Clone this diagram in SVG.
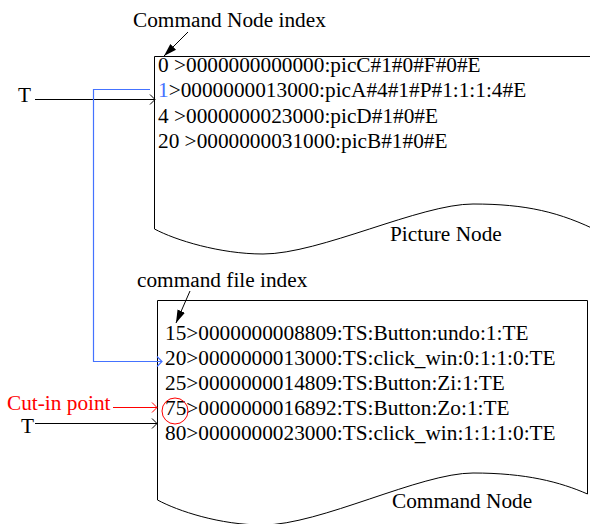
<svg xmlns="http://www.w3.org/2000/svg" width="590" height="524" viewBox="0 0 590 524">
<style>
text{font-size:21.3px;fill:#000}
.shape{fill:#fff;stroke:#000;stroke-width:1}
.ln{fill:none;stroke:#000;stroke-width:1}
.blue{fill:none;stroke:#4472ff;stroke-width:1.2}
.red{fill:none;stroke:#f00;stroke-width:1}
</style>
<defs>
<marker id="openK" markerUnits="userSpaceOnUse" markerWidth="8" markerHeight="12" refX="6" refY="6" orient="auto"><path d="M1,1 L6,6 L1,11" fill="none" stroke="#000" stroke-width="1"/></marker>
<marker id="openB" markerUnits="userSpaceOnUse" markerWidth="8" markerHeight="12" refX="6" refY="6" orient="auto"><path d="M1,1 L6,6 L1,11" fill="none" stroke="#4472ff" stroke-width="1.2"/></marker>
<marker id="openR" markerUnits="userSpaceOnUse" markerWidth="8" markerHeight="12" refX="6" refY="6" orient="auto"><path d="M1,1 L6,6 L1,11" fill="none" stroke="#f00" stroke-width="1"/></marker>
<marker id="fillK" markerUnits="userSpaceOnUse" markerWidth="14" markerHeight="10" refX="13" refY="5" orient="auto"><path d="M0,1 L13,5 L0,9 Z" fill="#000"/></marker>
</defs>

<g id="picture-node" font-family="Liberation Serif, Times New Roman, DejaVu Serif, serif">
<path class="shape" d="M600,56.5 H154.5 V229 C175,240 220,254 263,254 C320,254 420,204 473,204 C526,204 560,212 600,232"/>
<text x="158" y="72">0 &gt;0000000000000:picC#1#0#F#0#E</text>
<text x="158" y="97"><tspan fill="#4472ff">1</tspan>&gt;0000000013000:picA#4#1#P#1:1:1:4#E</text>
<text x="158" y="123">4 &gt;0000000023000:picD#1#0#E</text>
<text x="158" y="148">20 &gt;0000000031000:picB#1#0#E</text>
<text x="390" y="241">Picture Node</text>
</g>

<g id="command-node" font-family="Liberation Serif, Times New Roman, DejaVu Serif, serif">
<path class="shape" d="M157.5,300.5 H587.5 V494 C560,482 526,473 473,473 C420,473 320,525 263,525 C220,525 178,511 157.5,500 Z"/>
<text x="165" y="340">15&gt;0000000008809:TS:Button:undo:1:TE</text>
<text x="165" y="365">20&gt;0000000013000:TS:click_win:0:1:1:0:TE</text>
<text x="165" y="390">25&gt;0000000014809:TS:Button:Zi:1:TE</text>
<text x="165" y="415">75&gt;0000000016892:TS:Button:Zo:1:TE</text>
<text x="165" y="440">80&gt;0000000023000:TS:click_win:1:1:1:0:TE</text>
<text x="392" y="508">Command Node</text>
<circle cx="175" cy="411" r="13" fill="none" stroke="#f00" stroke-width="1"/>
</g>

<g id="labels" font-family="Liberation Serif, Times New Roman, DejaVu Serif, serif">
<text x="133" y="27">Command Node index</text>
<text x="137" y="287">command file index</text>
<text x="18" y="102">T</text>
<text x="21" y="433">T</text>
<text x="7" y="410" fill="#f00" style="fill:#f00">Cut-in point</text>
</g>

<g id="connectors">
<line class="ln" x1="188" y1="32" x2="164" y2="56" marker-end="url(#fillK)"/>
<line class="ln" x1="190" y1="291" x2="176" y2="323" marker-end="url(#fillK)"/>
<line class="ln" x1="35" y1="99.5" x2="155" y2="99.5" marker-end="url(#openK)"/>
<path class="blue" d="M150,89.5 H93.5 V361.5 H162" marker-end="url(#openB)"/>
<line class="red" x1="113" y1="407.5" x2="157" y2="407.5" marker-end="url(#openR)"/>
<line class="ln" x1="35" y1="423.5" x2="157" y2="423.5" marker-end="url(#openK)"/>
</g>
</svg>
